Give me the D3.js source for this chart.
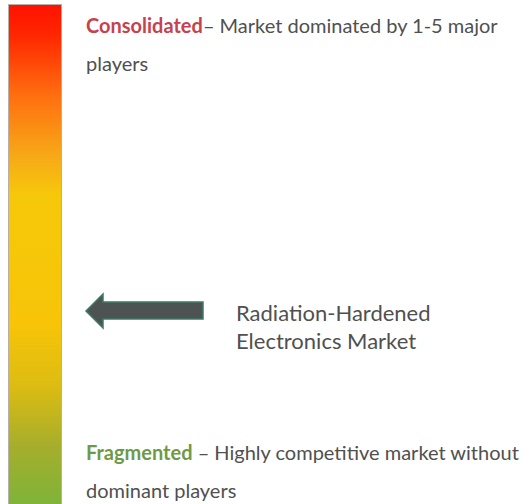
<!DOCTYPE html>
<html lang="en">

<head>
  <meta charset="UTF-8" />
  <title>Market Concentration</title>
  <script src="https://cdn.jsdelivr.net/npm/d3@7"></script>
  <style>
    body {
      margin: 0;
      background: #fff;
    }

    text {
      font-family: Lato, "Open Sans", sans-serif;
      fill: #505050;
    }
  </style>
</head>

<body>
  <div id="chart"></div>
  <script>
    // gradient stops, top (consolidated) to bottom (fragmented)
    var stopOffsets = [0, 0.06, 0.18, 0.3, 0.38, 0.64, 0.76, 0.88, 1];
    var stopColors = ["#ff1200", "#ff2600", "#ff6e10", "#f7a818", "#f6c80a", "#f7c408", "#dcbc12", "#a6ae2c", "#7cb43a"];

    var topLabel = "Consolidated";
    var topText = ["– Market dominated by 1-5 major", "players"];
    var bottomLabel = "Fragmented";
    var bottomText = [" – Highly competitive market without", "dominant players"];
    var marketName = ["Radiation-Hardened", "Electronics Market"];

    var w = 524;
    var h = 504;

    var svg = d3.select("#chart")
      .append("svg")
      .attr("width", w)
      .attr("height", h);

    var defs = svg.append("defs");
    var grad = defs.append("linearGradient")
      .attr("id", "bar-grad")
      .attr("x1", 0).attr("y1", 0)
      .attr("x2", 0).attr("y2", 1);
    grad.selectAll("stop")
      .data(stopOffsets)
      .enter()
      .append("stop")
      .attr("offset", function(d) { return d; })
      .attr("stop-color", function(d, i) { return stopColors[i]; });

    // the bar
    svg.append("rect")
      .attr("x", 8.5)
      .attr("y", 4.5)
      .attr("width", 53)
      .attr("height", 502)
      .attr("fill", "url(#bar-grad)")
      .attr("stroke", "#b8b0a8")
      .attr("stroke-width", 1);

    // arrow pointing at bar
    var ay = 311;
    var arrow = [
      [86, ay],
      [103, ay - 17],
      [103, ay - 9],
      [203, ay - 9],
      [203, ay + 8],
      [103, ay + 8],
      [103, ay + 17]
    ];
    svg.append("path")
      .attr("d", d3.line()(arrow) + "Z")
      .attr("fill", "#4d5353")
      .attr("stroke", "#3f7a66")
      .attr("stroke-width", 1.5);

    // top text
    var t1 = svg.append("text")
      .attr("x", 86)
      .attr("y", 33)
      .attr("font-size", "20px");
    t1.append("tspan")
      .attr("font-weight", "bold")
      .style("fill", "#c8414e")
      .text(topLabel);
    t1.append("tspan").text(topText[0]);
    svg.append("text")
      .attr("x", 86)
      .attr("y", 71)
      .attr("font-size", "20px")
      .text(topText[1]);

    // market name
    svg.selectAll(".mkt")
      .data(marketName)
      .enter()
      .append("text")
      .attr("class", "mkt")
      .attr("x", 236)
      .attr("y", function(d, i) { return 321 + i * 28; })
      .attr("font-size", "22px")
      .text(function(d) { return d; });

    // bottom text
    var t2 = svg.append("text")
      .attr("x", 86)
      .attr("y", 460)
      .attr("font-size", "20px");
    t2.append("tspan")
      .attr("font-weight", "bold")
      .style("fill", "#6f9a44")
      .text(bottomLabel);
    t2.append("tspan").text(bottomText[0]);
    svg.append("text")
      .attr("x", 86)
      .attr("y", 498)
      .attr("font-size", "20px")
      .text(bottomText[1]);
  </script>
</body>

</html>
